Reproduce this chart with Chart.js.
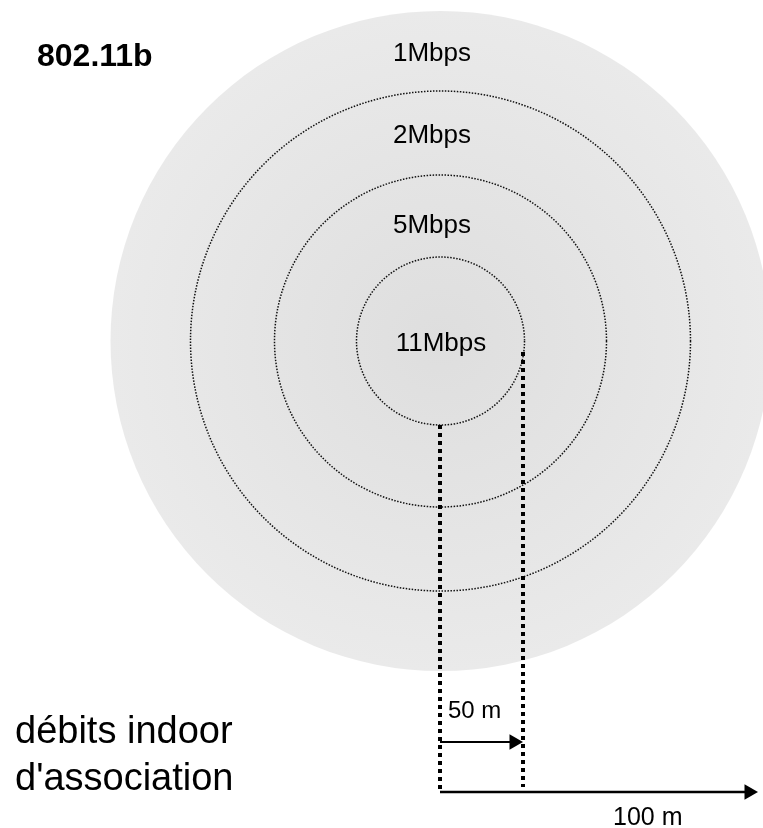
<!DOCTYPE html>
<html lang="fr">
<head>
  <meta charset="UTF-8">
  <title>802.11b - débits indoor d'association</title>
  <script src="https://cdn.jsdelivr.net/npm/chart.js"></script>
  <style>
    html, body { margin: 0; padding: 0; background: #fff; }
    #wrap { width: 763px; height: 828px; }
  </style>
</head>
<body>
  <div id="wrap"><canvas id="rateChart" width="763" height="828"></canvas></div>
  <script>
    // coverage rings (drawing units, same as page pixels)
    const rates = ['11Mbps', '5Mbps', '2Mbps', '1Mbps'];
    const ringRadius = [84, 166, 250, 330];
    const ringCenter = [440.5, 341];
    const rateLabelX = [441, 432, 432, 432];
    const rateLabelY = [351, 233, 143, 61];

    // distance markers
    const leftGuide = [[440, 425], [440, 792]];
    const rightGuide = [[523, 352], [523, 787]];
    const arrow50 = [[440, 742], [514, 742]];
    const arrow100 = [[440, 792], [749, 792]];
    const distLabels = ['50 m', '100 m'];
    const distLabelPos = [[448, 718], [613, 825]];

    const title = '802.11b';
    const caption = ['débits indoor', "d'association"];

    const FONT = '"Liberation Sans", Arial, sans-serif';

    const toPts = arr => arr.map(p => ({ x: p[0], y: p[1] }));

    const ringsPlugin = {
      id: 'rings',
      beforeDatasetsDraw(chart) {
        const { ctx, scales: { x, y } } = chart;
        const cx = x.getPixelForValue(ringCenter[0]);
        const cy = y.getPixelForValue(ringCenter[1]);
        const px = r => x.getPixelForValue(ringCenter[0] + r) - cx;
        const outer = px(ringRadius[ringRadius.length - 1]);
        ctx.save();
        const g = ctx.createRadialGradient(cx, cy, 0, cx, cy, outer);
        g.addColorStop(0, '#dedede');
        g.addColorStop(1, '#eaeaea');
        ctx.fillStyle = g;
        ctx.beginPath();
        ctx.arc(cx, cy, outer, 0, Math.PI * 2);
        ctx.fill();
        ctx.strokeStyle = '#111';
        ctx.lineWidth = 1.5;
        ctx.setLineDash([1.5, 1.5]);
        for (let i = 0; i < ringRadius.length - 1; i++) {
          ctx.beginPath();
          ctx.arc(cx, cy, px(ringRadius[i]), 0, Math.PI * 2);
          ctx.stroke();
        }
        ctx.restore();
      },
      afterDatasetsDraw(chart) {
        const { ctx, scales: { x, y } } = chart;
        ctx.save();
        ctx.fillStyle = '#000';
        ctx.textBaseline = 'alphabetic';
        ctx.textAlign = 'center';
        ctx.font = '26px ' + FONT;
        rates.forEach((r, i) => {
          ctx.fillText(r, x.getPixelForValue(rateLabelX[i]), y.getPixelForValue(rateLabelY[i]));
        });
        ctx.textAlign = 'left';
        ctx.font = '24px ' + FONT;
        ctx.fillText(distLabels[0], x.getPixelForValue(distLabelPos[0][0]), y.getPixelForValue(distLabelPos[0][1]));
        ctx.font = '25px ' + FONT;
        ctx.fillText(distLabels[1], x.getPixelForValue(distLabelPos[1][0]), y.getPixelForValue(distLabelPos[1][1]));
        ctx.font = 'bold 32px ' + FONT;
        ctx.fillText(title, x.getPixelForValue(37), y.getPixelForValue(66));
        ctx.font = '38px ' + FONT;
        ctx.fillText(caption[0], x.getPixelForValue(15), y.getPixelForValue(743));
        ctx.fillText(caption[1], x.getPixelForValue(15), y.getPixelForValue(790));
        ctx.restore();
      }
    };

    const guide = pts => ({
      data: toPts(pts),
      showLine: true,
      borderColor: '#000',
      borderWidth: 4,
      borderDash: [4, 4],
      borderCapStyle: 'butt',
      pointRadius: 0
    });

    const arrow = (pts, w) => ({
      data: toPts(pts),
      showLine: true,
      borderColor: '#000',
      backgroundColor: '#000',
      borderWidth: w,
      pointStyle: 'triangle',
      rotation: 90,
      pointRadius: [0, 9],
      pointBorderWidth: 0
    });

    new Chart(document.getElementById('rateChart'), {
      type: 'scatter',
      data: {
        datasets: [
          guide(leftGuide),
          guide(rightGuide),
          arrow(arrow50, 2),
          arrow(arrow100, 2.5)
        ]
      },
      options: {
        responsive: false,
        animation: false,
        layout: { padding: 0, autoPadding: false },
        plugins: { legend: { display: false }, tooltip: { enabled: false } },
        events: [],
        scales: {
          x: { type: 'linear', min: 0, max: 763, display: false },
          y: { type: 'linear', min: 0, max: 828, reverse: true, display: false }
        }
      },
      plugins: [ringsPlugin]
    });
  </script>
</body>
</html>
